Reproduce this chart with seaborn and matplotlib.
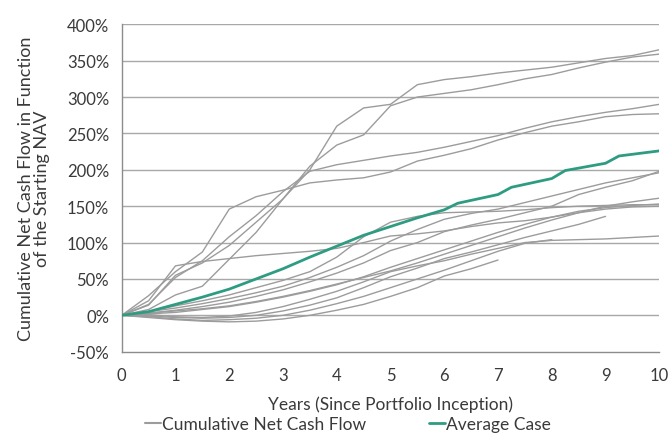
import numpy as np
import pandas as pd
import seaborn as sns
import matplotlib
matplotlib.use("Agg")
import matplotlib.pyplot as plt
from matplotlib.lines import Line2D
from matplotlib.ticker import FuncFormatter

# ---------------- data ----------------
years_grid = [0, 0.5, 1, 1.5, 2, 2.5, 3, 3.5, 4, 4.5, 5, 5.5, 6, 6.5, 7, 7.5, 8, 8.5, 9, 9.5, 10]

t1 = [0, 14, 55, 72, 96, 128, 160, 200, 260, 285, 290, 317, 324, 328, 333, 337, 341, 347, 353, 357, 365]
t2 = [0, 8, 28, 40, 77, 114, 160, 205, 234, 248, 288, 300, 305, 310, 317, 325, 331, 340, 348, 355, 359]
t3 = [0, 15, 52, 75, 108, 137, 170, 198, 207, 213, 219, 224, 231, 239, 247, 257, 266, 273, 279, 284, 290]
t4 = [0, 27, 60, 87, 146, 163, 172, 182, 186, 189, 197, 212, 220, 229, 241, 251, 260, 266, 273, 276, 277]
f1 = [0, 20, 68, 74, 78, 82, 85, 88, 92, 100, 109, 112, 116, 122, 127, 130, 135, 141, 146, 149, 150]
f2 = [0, 5, 13, 20, 28, 38, 48, 60, 80, 108, 128, 136, 141, 142, 143, 145, 148, 150, 151, 152, 152]
a1 = [0, 3, 7, 12, 18, 26, 35, 46, 58, 72, 89, 100, 115, 124, 132, 141, 150, 166, 176, 185, 198]
b1 = [0, 5, 10, 16, 23, 31, 40, 52, 66, 82, 102, 118, 132, 140, 146, 155, 164, 173, 182, 189, 196]
f3 = [0, 2, 4, 8, 12, 18, 25, 33, 42, 53, 66, 78, 90, 102, 114, 125, 135, 143, 148, 151, 153]
l161 = [0, 3, 6, 9, 13, 19, 26, 34, 43, 52, 61, 72, 84, 96, 108, 120, 131, 141, 150, 156, 161]
l110 = [0, 1, -2, -3, -1, 4, 12, 22, 33, 46, 60, 68, 75, 84, 92, 100, 103, 104, 105, 107, 109]
l136 = [0, -1, -3, -4, -3, 0, 6, 14, 24, 38, 53, 65, 78, 87, 97, 107, 116, 125, 136]
l104 = [0, -2, -5, -7, -6, -4, 0, 7, 16, 26, 38, 50, 62, 75, 88, 99, 104]
l76 = [0, -3, -6, -8, -9, -8, -5, 0, 7, 15, 26, 38, 54, 64, 76]

portfolios = {
    "P1": t1, "P2": t2, "P3": t3, "P4": t4, "P5": f1, "P6": f2, "P7": a1,
    "P8": b1, "P9": f3, "P10": l161, "P11": l110, "P12": l136, "P13": l104, "P14": l76,
}

avg_years = [0, 0.5, 1, 1.5, 2, 2.5, 3, 3.5, 4, 4.5, 5, 5.5, 6, 6.25, 7, 7.25, 8, 8.25, 9, 9.25, 10]
avg_values = [0, 5, 15, 25, 36, 50, 64, 80, 95, 110, 122, 134, 145, 154, 166, 176, 188, 199, 209, 219, 226]

y_ticks = [-50, 0, 50, 100, 150, 200, 250, 300, 350, 400]
x_ticks = [0, 1, 2, 3, 4, 5, 6, 7, 8, 9, 10]

# ---------------- frames ----------------
rows = []
for name, vals in portfolios.items():
    for yr, v in zip(years_grid, vals):
        rows.append({"year": yr, "value": v, "portfolio": name})
df = pd.DataFrame(rows)
avg_df = pd.DataFrame({"year": avg_years, "value": avg_values})

# ---------------- style ----------------
sns.set_style("white")
plt.rcParams["font.family"] = ["Lato", "DejaVu Sans"]

GRAY = "#9c9c9c"
GREEN = "#2e9c82"
AXC = "#8c8c8c"
TXT = "#3a3a3a"

fig = plt.figure(figsize=(6.71, 4.39), dpi=100)
ax = fig.add_axes([0.1814, 0.1966, 0.8012, 0.7458])

for yv in y_ticks[1:]:
    ax.axhline(yv, color="#a8a8a8", lw=1.0, zorder=0)

sns.lineplot(data=df, x="year", y="value", units="portfolio", estimator=None,
             color=GRAY, lw=1.0, ax=ax, zorder=2)
sns.lineplot(data=avg_df, x="year", y="value", color=GREEN, lw=2.0, ax=ax, zorder=3)

ax.set_xlim(0, 10)
ax.set_ylim(-50, 400)
ax.set_xticks(x_ticks)
ax.set_yticks(y_ticks)
ax.yaxis.set_major_formatter(FuncFormatter(lambda v, p: f"{int(v)}%"))

for s in ["top", "right"]:
    ax.spines[s].set_visible(False)
for s in ["left", "bottom"]:
    ax.spines[s].set_color(AXC)
    ax.spines[s].set_linewidth(1.0)

ax.tick_params(axis="both", which="major", direction="out", length=5, width=1,
               color=AXC, labelcolor=TXT, labelsize=12)
ax.tick_params(axis="y", pad=4)
ax.tick_params(axis="x", pad=6)

ax.set_xlabel("Years (Since Portfolio Inception)", fontsize=12.5, color=TXT, labelpad=9)
ax.set_ylabel("Cumulative Net Cash Flow in Function\nof the Starting NAV", fontsize=13,
              color=TXT, labelpad=12, linespacing=1.0)

handles = [Line2D([0], [0], color=GRAY, lw=1.5), Line2D([0], [0], color=GREEN, lw=2)]
fig.legend(handles, ["Cumulative Net Cash Flow", "Average Case"], loc="center",
           bbox_to_anchor=(0.519, 0.032), ncol=2, frameon=False, fontsize=12.5,
           handlelength=0.9, handletextpad=0.1, columnspacing=3.6,
           labelcolor=TXT)

fig.savefig("out.png", dpi=100)
